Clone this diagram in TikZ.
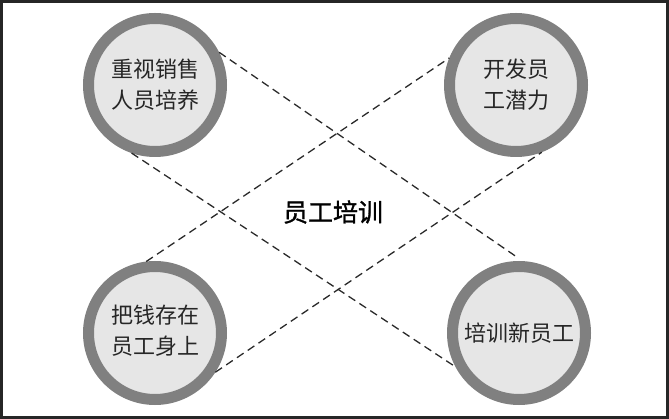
\documentclass[tikz,border=0pt]{standalone}
\usepackage{fontspec}
\newfontfamily\cjk{Noto Sans CJK SC}
\newfontfamily\cjkbold[FakeBold=1.2]{Noto Sans CJK SC}
\definecolor{ringgray}{HTML}{808080}
\definecolor{fillgray}{HTML}{E6E6E6}
\definecolor{dashgray}{HTML}{2A2A2A}
\begin{document}
\begin{tikzpicture}[x=1pt,y=-1pt,
  ringnode/.style={circle, draw=ringgray, line width=11pt, fill=fillgray,
    minimum size=133pt, inner sep=0pt, align=center,
    font=\cjk\fontsize{22}{31}\selectfont, text=black!85},
  dashline/.style={draw=dashgray, line width=1.3pt, dash pattern=on 8pt off 5pt}]
\useasboundingbox (0,0) rectangle (669,419);
\draw[line width=3pt, black!85] (1.5,1.5) rectangle (667.5,417.5);
\node[ringnode] (tl) at (155,85) {重视销售\\人员培养};
\node[ringnode] (tr) at (516,85) {开发员\\工潜力};
\node[ringnode] (bl) at (155,333) {\raisebox{-6pt}{\begin{tabular}{@{}c@{}}把钱存在\\员工身上\end{tabular}}};
\node[ringnode] (br) at (519,333) {\raisebox{-6pt}{培训新员工}};
\node[font=\cjkbold\fontsize{25}{30}\selectfont] (center) at (333,212) {员工培训};
\draw[dashline, shorten >=5pt] (tl.27) -- (br.87);
\draw[dashline] (tl.-109) -- (br.208);
\draw[dashline] (bl.97) -- (tr.158);
\draw[dashline] (bl.-33) -- (tr.-69);
\end{tikzpicture}
\end{document}
